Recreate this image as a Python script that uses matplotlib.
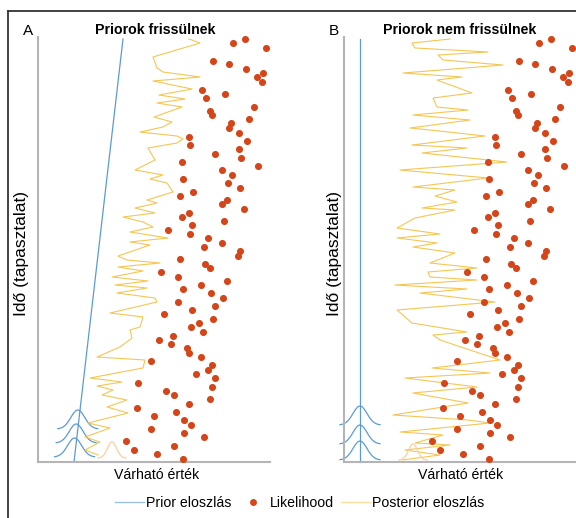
import numpy as np
import matplotlib.pyplot as plt
from matplotlib.lines import Line2D

plt.rcParams['font.family'] = ['Liberation Sans', 'DejaVu Sans']

# likelihood observations (value, time) - same in both panels
obs_x = [207, 195, 228, 175, 191, 208, 225, 219, 224, 164, 187, 168, 216, 172, 174, 211, 193, 191, 201, 151,
         209, 152, 201, 177, 203, 144, 220, 184, 194, 145, 190, 202, 155, 142, 189, 184, 206, 151, 144, 186,
         154, 130, 152, 170, 184, 166, 202, 200, 142, 167, 172, 123, 140, 189, 163, 145, 173, 185, 140, 177,
         154, 126, 175, 161, 153, 165, 135, 121, 133, 149, 151, 163, 113, 174, 170, 158, 177, 100, 174, 128,
         136, 172, 151, 99, 138, 116, 146, 153, 113, 146, 166, 88, 136, 96, 119, 145]
obs_t = [423, 419, 414, 401, 398, 393, 389, 385, 380, 372, 368, 364, 355, 351, 347, 343, 339, 334, 329, 325,
         321, 317, 313, 308, 304, 300, 296, 292, 287, 283, 279, 274, 270, 266, 262, 258, 253, 249, 245, 241,
         237, 232, 228, 224, 219, 215, 211, 206, 203, 198, 194, 190, 185, 181, 177, 173, 169, 164, 160, 156,
         152, 148, 143, 139, 135, 130, 126, 122, 118, 114, 109, 105, 101, 97, 92, 88, 84, 79, 75, 71,
         67, 63, 58, 54, 50, 46, 42, 37, 33, 29, 25, 21, 16, 12, 8, 3]

# posterior path, panel A
postA_x = [151, 162, 115, 119, 125, 162, 115, 154, 121, 147, 119, 144, 116, 134, 125, 102, 139, 145, 139, 110,
           117, 97, 125, 112, 129, 135, 109, 119, 97, 117, 85, 105, 115, 92, 130, 92, 112, 80, 89, 122,
           80, 105, 74, 110, 77, 109, 79, 117, 119, 72, 105, 102, 92, 94, 82, 59, 107, 105, 52, 84,
           59, 75, 64, 89, 69, 90, 50, 72, 47, 62, 47, 60]
postA_t = [423, 419, 405, 394, 390, 385, 381, 373, 367, 363, 359, 355, 345, 340, 335, 330, 326, 323, 319, 314,
           302, 292, 287, 283, 279, 270, 262, 259, 254, 249, 245, 240, 235, 230, 224, 220, 217, 206, 202, 199,
           195, 191, 185, 181, 177, 174, 169, 164, 160, 149, 145, 135, 132, 124, 115, 105, 102, 94, 84, 80,
           76, 72, 67, 62, 55, 49, 39, 34, 25, 20, 12, 7]

# posterior path, panel B
postB_x = [106, 68, 71, 144, 94, 99, 159, 59, 118, 93, 128, 89, 93, 124, 69, 126, 66, 86, 141, 68,
           123, 78, 163, 56, 144, 69, 111, 91, 113, 78, 111, 71, 53, 96, 53, 93, 69, 111, 86, 133,
           84, 86, 133, 51, 123, 76, 151, 53, 68, 123, 89, 96, 156, 88, 146, 61, 133, 69, 124, 49,
           124, 146, 56, 99, 71, 106, 61, 96, 58]
postB_t = [423, 419, 414, 410, 407, 402, 397, 389, 385, 382, 369, 364, 355, 352, 347, 342, 334, 332, 326, 317,
           314, 309, 300, 292, 284, 275, 272, 266, 260, 254, 252, 244, 234, 228, 224, 219, 215, 209, 199, 194,
           190, 185, 182, 177, 173, 169, 160, 152, 139, 130, 127, 122, 102, 94, 89, 84, 75, 69, 59, 47,
           42, 39, 30, 27, 19, 17, 12, 7, 2]

# prior mean (start, end) over time
prior_t = [0, 423]
priorA_mean = [36, 85]
priorB_mean = [16, 16]
priorA_bell_t = [5, 19, 33]
priorB_bell_t = [2, 18, 37]
prior_sd = 7
prior_h = 19

post0A = (74, 4)   # initial posterior (mean, time)
post0B = (69, 2)
post0_sd = 4.5
post0_h = 16

blue = '#5b9bd5'
red = '#d4461a'
yellow = '#f4c040'
peach = '#f8d4a8'
grey = '#b5b5b5'

W, H = 576, 518
fig = plt.figure(figsize=(W / 100, H / 100), dpi=100)


def panel(left, title, letter, prior_mean, bell_t, post_x, post_t, post0, title_x, letter_x, ylab_x, xlab_x):
    ax = fig.add_axes([left / W, 1 - 462 / H, 232 / W, 425 / H])
    ax.set_xlim(0, 232)
    ax.set_ylim(0, 425)
    for s in ['top', 'right']:
        ax.spines[s].set_visible(False)
    for s in ['left', 'bottom']:
        ax.spines[s].set_color(grey)
        ax.spines[s].set_linewidth(1.5)
    ax.set_xticks([])
    ax.set_yticks([])

    # prior
    ax.plot(prior_mean, prior_t, color=blue, lw=0.9, clip_on=False)
    for t in bell_t:
        c = np.interp(t, prior_t, prior_mean)
        xs = np.linspace(c - 20, c + 20, 80)
        ax.plot(xs, t + prior_h * np.exp(-0.5 * ((xs - c) / prior_sd) ** 2), color=blue, lw=0.9, clip_on=False)

    # posterior
    ax.plot(post_x, post_t, color=yellow, lw=0.8, alpha=0.9, clip_on=False)
    xs = np.linspace(post0[0] - 14, post0[0] + 14, 60)
    ax.plot(xs, post0[1] + post0_h * np.exp(-0.5 * ((xs - post0[0]) / post0_sd) ** 2),
            color=peach, lw=1.0, clip_on=False)

    # likelihood
    ax.scatter(obs_x, obs_t, s=26, color=red, linewidths=0, zorder=3, clip_on=False)

    fig.text(title_x / W, 1 - 30 / H, title, ha='center', va='center', fontsize=10.2, fontweight='bold')
    fig.text(letter_x / W, 1 - 31 / H, letter, ha='center', va='center', fontsize=11)
    fig.text(ylab_x / W, 1 - 254 / H, 'Idő (tapasztalat)', ha='center', va='center', rotation=90, fontsize=12.5)
    fig.text(xlab_x / W, 1 - 475 / H, 'Várható érték', ha='center', va='center', fontsize=10.2)
    return ax


panel(38, 'Priorok frissülnek', 'A', priorA_mean, priorA_bell_t, postA_x, postA_t, post0A, 155, 28, 22, 157)
panel(344, 'Priorok nem frissülnek', 'B', priorB_mean, priorB_bell_t, postB_x, postB_t, post0B, 460, 334, 334, 461)

handles = [Line2D([], [], color=blue, lw=1, alpha=0.6),
           Line2D([], [], color=red, marker='o', ls='none', markersize=5, markeredgewidth=0),
           Line2D([], [], color=yellow, lw=1, alpha=0.5)]
fig.legend(handles, ['Prior eloszlás', 'Likelihood', 'Posterior eloszlás'],
           loc='center', bbox_to_anchor=(300 / W, 1 - 503 / H), ncol=3, frameon=False,
           fontsize=10.2, handlelength=2.0, handletextpad=0.2, columnspacing=0.5)

# outer frame
fig.add_artist(Line2D([8 / W, 8 / W], [0, 1 - 11 / H], color='#333333', lw=1.3))
fig.add_artist(Line2D([8 / W, 1], [1 - 11 / H, 1 - 11 / H], color='#333333', lw=1.3))

fig.savefig('out.png', dpi=100)
